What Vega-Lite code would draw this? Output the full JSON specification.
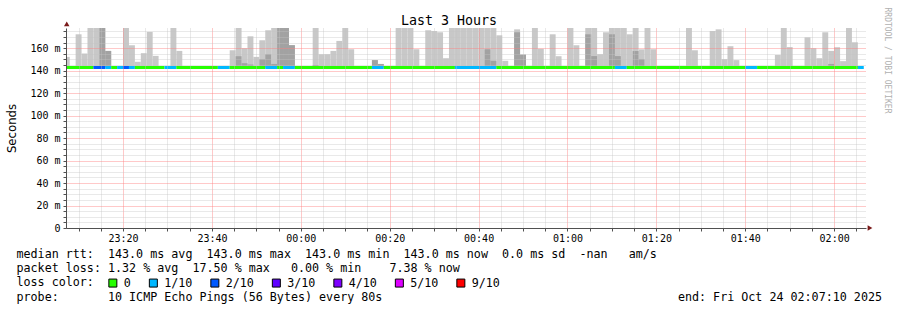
{
"$schema":"https://vega.github.io/schema/vega-lite/v6.json",
"width":800,"height":200,
"autosize":{"type":"none"},
"padding":{"left":66,"top":28,"right":31,"bottom":82},
"background":"#ffffff",
"config":{"view":{"stroke":null},"font":"DejaVu Sans Mono"},
"datasets":{
"smoke":[
{"s":"2025-10-23T23:06:40Z","e":"2025-10-23T23:08:00Z","hi":152.3},
{"s":"2025-10-23T23:09:20Z","e":"2025-10-23T23:10:40Z","hi":172.4},
{"s":"2025-10-23T23:10:40Z","e":"2025-10-23T23:12:00Z","hi":155.3},
{"s":"2025-10-23T23:12:00Z","e":"2025-10-23T23:13:20Z","hi":178},
{"s":"2025-10-23T23:13:20Z","e":"2025-10-23T23:14:40Z","hi":178},
{"s":"2025-10-23T23:14:40Z","e":"2025-10-23T23:16:00Z","hi":178,"dk":178},
{"s":"2025-10-23T23:16:00Z","e":"2025-10-23T23:17:20Z","hi":157.6,"dk":157.6},
{"s":"2025-10-23T23:20:00Z","e":"2025-10-23T23:21:20Z","hi":178},
{"s":"2025-10-23T23:21:20Z","e":"2025-10-23T23:22:40Z","hi":162.7},
{"s":"2025-10-23T23:22:40Z","e":"2025-10-23T23:24:00Z","hi":147.9},
{"s":"2025-10-23T23:24:00Z","e":"2025-10-23T23:25:20Z","hi":155.6},
{"s":"2025-10-23T23:25:20Z","e":"2025-10-23T23:26:40Z","hi":174.5},
{"s":"2025-10-23T23:26:40Z","e":"2025-10-23T23:28:00Z","hi":153.2},
{"s":"2025-10-23T23:30:40Z","e":"2025-10-23T23:32:00Z","hi":178},
{"s":"2025-10-23T23:32:00Z","e":"2025-10-23T23:33:20Z","hi":157.6},
{"s":"2025-10-23T23:44:00Z","e":"2025-10-23T23:45:20Z","hi":158.2},
{"s":"2025-10-23T23:45:20Z","e":"2025-10-23T23:46:40Z","hi":178,"dk":152.9},
{"s":"2025-10-23T23:46:40Z","e":"2025-10-23T23:48:00Z","hi":160,"dk":146.7},
{"s":"2025-10-23T23:48:00Z","e":"2025-10-23T23:49:20Z","hi":170.6,"dk":145.5},
{"s":"2025-10-23T23:49:20Z","e":"2025-10-23T23:50:40Z","hi":152.3},
{"s":"2025-10-23T23:50:40Z","e":"2025-10-23T23:52:00Z","hi":167.1,"dk":150.3},
{"s":"2025-10-23T23:52:00Z","e":"2025-10-23T23:53:20Z","hi":176,"dk":154.7},
{"s":"2025-10-23T23:53:20Z","e":"2025-10-23T23:54:40Z","hi":178,"dk":146},
{"s":"2025-10-23T23:54:40Z","e":"2025-10-23T23:56:00Z","hi":178,"dk":178},
{"s":"2025-10-23T23:56:00Z","e":"2025-10-23T23:57:20Z","hi":178,"dk":178},
{"s":"2025-10-23T23:57:20Z","e":"2025-10-23T23:58:40Z","hi":162.7,"dk":162.7},
{"s":"2025-10-24T00:02:40Z","e":"2025-10-24T00:04:00Z","hi":178,"dk":145},
{"s":"2025-10-24T00:04:00Z","e":"2025-10-24T00:05:20Z","hi":154.7},
{"s":"2025-10-24T00:05:20Z","e":"2025-10-24T00:06:40Z","hi":154.7},
{"s":"2025-10-24T00:06:40Z","e":"2025-10-24T00:08:00Z","hi":157.6},
{"s":"2025-10-24T00:08:00Z","e":"2025-10-24T00:09:20Z","hi":166.5},
{"s":"2025-10-24T00:09:20Z","e":"2025-10-24T00:10:40Z","hi":178},
{"s":"2025-10-24T00:10:40Z","e":"2025-10-24T00:12:00Z","hi":159.1},
{"s":"2025-10-24T00:16:00Z","e":"2025-10-24T00:17:20Z","hi":149.4,"dk":149.4},
{"s":"2025-10-24T00:17:20Z","e":"2025-10-24T00:18:40Z","hi":146,"dk":146},
{"s":"2025-10-24T00:21:20Z","e":"2025-10-24T00:22:40Z","hi":178},
{"s":"2025-10-24T00:22:40Z","e":"2025-10-24T00:24:00Z","hi":178},
{"s":"2025-10-24T00:24:00Z","e":"2025-10-24T00:25:20Z","hi":178},
{"s":"2025-10-24T00:25:20Z","e":"2025-10-24T00:26:40Z","hi":159.1},
{"s":"2025-10-24T00:28:00Z","e":"2025-10-24T00:29:20Z","hi":176},
{"s":"2025-10-24T00:29:20Z","e":"2025-10-24T00:30:40Z","hi":175.3},
{"s":"2025-10-24T00:30:40Z","e":"2025-10-24T00:32:00Z","hi":174.2},
{"s":"2025-10-24T00:32:00Z","e":"2025-10-24T00:33:20Z","hi":151.1},
{"s":"2025-10-24T00:33:20Z","e":"2025-10-24T00:34:40Z","hi":178},
{"s":"2025-10-24T00:34:40Z","e":"2025-10-24T00:36:00Z","hi":178},
{"s":"2025-10-24T00:36:00Z","e":"2025-10-24T00:37:20Z","hi":178},
{"s":"2025-10-24T00:37:20Z","e":"2025-10-24T00:38:40Z","hi":178},
{"s":"2025-10-24T00:38:40Z","e":"2025-10-24T00:40:00Z","hi":178},
{"s":"2025-10-24T00:40:00Z","e":"2025-10-24T00:41:20Z","hi":178},
{"s":"2025-10-24T00:41:20Z","e":"2025-10-24T00:42:40Z","hi":178,"dk":159.1},
{"s":"2025-10-24T00:42:40Z","e":"2025-10-24T00:44:00Z","hi":178,"dk":148.8},
{"s":"2025-10-24T00:44:00Z","e":"2025-10-24T00:45:20Z","hi":171.5},
{"s":"2025-10-24T00:45:20Z","e":"2025-10-24T00:46:40Z","hi":148.8},
{"s":"2025-10-24T00:48:00Z","e":"2025-10-24T00:49:20Z","hi":176.8,"dk":174.2},
{"s":"2025-10-24T00:49:20Z","e":"2025-10-24T00:50:40Z","hi":154.3,"dk":154.3},
{"s":"2025-10-24T00:52:00Z","e":"2025-10-24T00:53:20Z","hi":178},
{"s":"2025-10-24T00:53:20Z","e":"2025-10-24T00:54:40Z","hi":159.5},
{"s":"2025-10-24T00:56:00Z","e":"2025-10-24T00:57:20Z","hi":172.4},
{"s":"2025-10-24T00:57:20Z","e":"2025-10-24T00:58:40Z","hi":152.9},
{"s":"2025-10-24T01:00:00Z","e":"2025-10-24T01:01:20Z","hi":178},
{"s":"2025-10-24T01:01:20Z","e":"2025-10-24T01:02:40Z","hi":162.7},
{"s":"2025-10-24T01:04:00Z","e":"2025-10-24T01:05:20Z","hi":178,"dk":172.4},
{"s":"2025-10-24T01:05:20Z","e":"2025-10-24T01:06:40Z","hi":178,"dk":153},
{"s":"2025-10-24T01:06:40Z","e":"2025-10-24T01:08:00Z","hi":154.7},
{"s":"2025-10-24T01:08:00Z","e":"2025-10-24T01:09:20Z","hi":174.2},
{"s":"2025-10-24T01:09:20Z","e":"2025-10-24T01:10:40Z","hi":178,"dk":172.4},
{"s":"2025-10-24T01:10:40Z","e":"2025-10-24T01:12:00Z","hi":178,"dk":153},
{"s":"2025-10-24T01:12:00Z","e":"2025-10-24T01:13:20Z","hi":178},
{"s":"2025-10-24T01:13:20Z","e":"2025-10-24T01:14:40Z","hi":172.4},
{"s":"2025-10-24T01:14:40Z","e":"2025-10-24T01:16:00Z","hi":178,"dk":157.5},
{"s":"2025-10-24T01:16:00Z","e":"2025-10-24T01:17:20Z","hi":159,"dk":150.3},
{"s":"2025-10-24T01:17:20Z","e":"2025-10-24T01:18:40Z","hi":178},
{"s":"2025-10-24T01:18:40Z","e":"2025-10-24T01:20:00Z","hi":159.1},
{"s":"2025-10-24T01:26:40Z","e":"2025-10-24T01:28:00Z","hi":178},
{"s":"2025-10-24T01:28:00Z","e":"2025-10-24T01:29:20Z","hi":158.2},
{"s":"2025-10-24T01:32:00Z","e":"2025-10-24T01:33:20Z","hi":175.3},
{"s":"2025-10-24T01:33:20Z","e":"2025-10-24T01:34:40Z","hi":176.8},
{"s":"2025-10-24T01:34:40Z","e":"2025-10-24T01:36:00Z","hi":150.3},
{"s":"2025-10-24T01:36:00Z","e":"2025-10-24T01:37:20Z","hi":161.8},
{"s":"2025-10-24T01:37:20Z","e":"2025-10-24T01:38:40Z","hi":149.4},
{"s":"2025-10-24T01:46:40Z","e":"2025-10-24T01:48:00Z","hi":154},
{"s":"2025-10-24T01:48:00Z","e":"2025-10-24T01:49:20Z","hi":178},
{"s":"2025-10-24T01:49:20Z","e":"2025-10-24T01:50:40Z","hi":161},
{"s":"2025-10-24T01:53:20Z","e":"2025-10-24T01:54:40Z","hi":169.7},
{"s":"2025-10-24T01:54:40Z","e":"2025-10-24T01:56:00Z","hi":160},
{"s":"2025-10-24T01:56:00Z","e":"2025-10-24T01:57:20Z","hi":151.1},
{"s":"2025-10-24T01:57:20Z","e":"2025-10-24T01:58:40Z","hi":174.2},
{"s":"2025-10-24T01:58:40Z","e":"2025-10-24T02:00:00Z","hi":157.6,"dk":146},
{"s":"2025-10-24T02:00:00Z","e":"2025-10-24T02:01:20Z","hi":160.9},
{"s":"2025-10-24T02:01:20Z","e":"2025-10-24T02:02:40Z","hi":148.5},
{"s":"2025-10-24T02:02:40Z","e":"2025-10-24T02:04:00Z","hi":178},
{"s":"2025-10-24T02:04:00Z","e":"2025-10-24T02:05:20Z","hi":165.3}
],
"loss":[
{"s":"2025-10-23T23:06:40Z","e":"2025-10-23T23:13:20Z","med":143,"loss":"0"},
{"s":"2025-10-23T23:13:20Z","e":"2025-10-23T23:16:00Z","med":143,"loss":"2/10"},
{"s":"2025-10-23T23:16:00Z","e":"2025-10-23T23:17:20Z","med":143,"loss":"1/10"},
{"s":"2025-10-23T23:17:20Z","e":"2025-10-23T23:18:40Z","med":143,"loss":"0"},
{"s":"2025-10-23T23:18:40Z","e":"2025-10-23T23:20:00Z","med":143,"loss":"1/10"},
{"s":"2025-10-23T23:20:00Z","e":"2025-10-23T23:21:20Z","med":143,"loss":"2/10"},
{"s":"2025-10-23T23:21:20Z","e":"2025-10-23T23:22:40Z","med":143,"loss":"1/10"},
{"s":"2025-10-23T23:22:40Z","e":"2025-10-23T23:29:20Z","med":143,"loss":"0"},
{"s":"2025-10-23T23:29:20Z","e":"2025-10-23T23:32:00Z","med":143,"loss":"1/10"},
{"s":"2025-10-23T23:32:00Z","e":"2025-10-23T23:41:20Z","med":143,"loss":"0"},
{"s":"2025-10-23T23:41:20Z","e":"2025-10-23T23:44:00Z","med":143,"loss":"1/10"},
{"s":"2025-10-23T23:44:00Z","e":"2025-10-23T23:52:00Z","med":143,"loss":"0"},
{"s":"2025-10-23T23:52:00Z","e":"2025-10-23T23:54:40Z","med":143,"loss":"1/10"},
{"s":"2025-10-23T23:54:40Z","e":"2025-10-23T23:56:00Z","med":143,"loss":"0"},
{"s":"2025-10-23T23:56:00Z","e":"2025-10-23T23:58:40Z","med":143,"loss":"1/10"},
{"s":"2025-10-23T23:58:40Z","e":"2025-10-24T00:16:00Z","med":143,"loss":"0"},
{"s":"2025-10-24T00:16:00Z","e":"2025-10-24T00:18:40Z","med":143,"loss":"1/10"},
{"s":"2025-10-24T00:18:40Z","e":"2025-10-24T00:34:40Z","med":143,"loss":"0"},
{"s":"2025-10-24T00:34:40Z","e":"2025-10-24T00:44:00Z","med":143,"loss":"1/10"},
{"s":"2025-10-24T00:44:00Z","e":"2025-10-24T01:10:40Z","med":143,"loss":"0"},
{"s":"2025-10-24T01:10:40Z","e":"2025-10-24T01:13:20Z","med":143,"loss":"1/10"},
{"s":"2025-10-24T01:13:20Z","e":"2025-10-24T01:40:00Z","med":143,"loss":"0"},
{"s":"2025-10-24T01:40:00Z","e":"2025-10-24T01:42:40Z","med":143,"loss":"1/10"},
{"s":"2025-10-24T01:42:40Z","e":"2025-10-24T02:05:20Z","med":143,"loss":"0"},
{"s":"2025-10-24T02:05:20Z","e":"2025-10-24T02:06:40Z","med":143,"loss":"1/10"}
],
"arrowTop":[{"t":"2025-10-23T23:07:20Z","v":181.7}],
"arrowRight":[{"t":"2025-10-24T02:08:04Z","v":0}]
},
"layer":[
{
"data":{"name":"smoke"},
"mark":{"type":"rect","color":"#c8c8c8","clip":true},
"encoding":{
"x":{"field":"s","type":"temporal",
"scale":{"type":"utc","domain":[1761260830000,1761271630000]},
"axis":{"orient":"bottom",
"values":[1761261000000,1761261300000,1761261600000,1761261900000,1761262200000,1761262500000,1761262800000,1761263100000,1761263400000,1761263700000,1761264000000,1761264300000,1761264600000,1761264900000,1761265200000,1761265500000,1761265800000,1761266100000,1761266400000,1761266700000,1761267000000,1761267300000,1761267600000,1761267900000,1761268200000,1761268500000,1761268800000,1761269100000,1761269400000,1761269700000,1761270000000,1761270300000,1761270600000,1761270900000,1761271200000,1761271500000],
"labelExpr":"utcminutes(datum.value) % 20 === 0 ? utcFormat(datum.value, '%H:%M') : ''",
"labelFont":"DejaVu Sans Mono","labelFontSize":10,"labelColor":"#000000","labelPadding":2,"labelOverlap":false,"labelFlush":false,
"grid":true,"gridColor":{"condition":{"test":"utcminutes(datum.value) % 20 === 0","value":"#ff8080"},"value":"#c4c4c4"},
"gridOpacity":{"condition":{"test":"utcminutes(datum.value) % 20 === 0","value":0.85},"value":0.75},
"gridDash":[1,1],"tickSize":3,"tickColor":"#505050","domainColor":"#505050","zindex":1,
"title":["median rtt:\u00a0\u00a0143.0 ms avg\u00a0\u00a0143.0 ms max\u00a0\u00a0143.0 ms min\u00a0\u00a0143.0 ms now\u00a0\u00a00.0 ms sd\u00a0\u00a0-nan\u00a0\u00a0\u00a0am/s",
"packet loss: 1.32 % avg\u00a0\u00a017.50 % max\u00a0\u00a0\u00a00.00 % min\u00a0\u00a0\u00a0\u00a07.38 % now",
"loss color:",
"probe:\u00a0\u00a0\u00a0\u00a0\u00a0\u00a0\u00a010 ICMP Echo Pings (56 Bytes) every 80s\u00a0\u00a0\u00a0\u00a0\u00a0\u00a0\u00a0\u00a0\u00a0\u00a0\u00a0\u00a0\u00a0\u00a0\u00a0\u00a0\u00a0\u00a0\u00a0\u00a0\u00a0\u00a0\u00a0\u00a0\u00a0\u00a0\u00a0\u00a0\u00a0\u00a0\u00a0\u00a0\u00a0\u00a0\u00a0\u00a0\u00a0\u00a0\u00a0\u00a0\u00a0\u00a0end: Fri Oct 24 02:07:10 2025"],
"titleFont":"DejaVu Sans Mono","titleFontSize":11.7,"titleFontWeight":"normal","titleColor":"#000000",
"titleAlign":"left","titleAnchor":"start","titleX":-50,"titleY":29.5,"titleBaseline":"alphabetic","titleLineHeight":14.2}},
"x2":{"field":"e"},
"y":{"field":"hi","type":"quantitative",
"scale":{"domain":[0,178],"nice":false,"zero":true},
"axis":{"orient":"left","values":[0,5,10,15,20,25,30,35,40,45,50,55,60,65,70,75,80,85,90,95,100,105,110,115,120,125,130,135,140,145,150,155,160,165,170,175],
"labelExpr":"datum.value % 20 === 0 ? (datum.value === 0 ? '0\u00a0\u00a0' : datum.value + ' m') : ''",
"labelFont":"DejaVu Sans Mono","labelFontSize":10,"labelColor":"#000000","labelPadding":3,"labelOverlap":false,"labelFlush":false,
"grid":true,"gridColor":{"condition":{"test":"datum.value % 20 === 0","value":"#ff8080"},"value":"#c4c4c4"},
"gridOpacity":{"condition":{"test":"datum.value % 20 === 0","value":0.85},"value":0.75},
"gridDash":[1,1],"tickSize":3,"tickColor":"#505050","domainColor":"#505050","zindex":1,
"title":"Seconds","titleFont":"DejaVu Sans","titleFontSize":11.7,"titleFontWeight":"normal","titleColor":"#000000",
"titleAngle":-90,"titleX":-55,"titleY":100,"titleAlign":"center","titleBaseline":"middle"}},
"y2":{"datum":143}
}
},
{
"data":{"name":"smoke"},
"transform":[{"filter":"isValid(datum.dk)"}],
"mark":{"type":"rect","color":"#a2a2a2","clip":true},
"encoding":{
"x":{"field":"s","type":"temporal",
"axis":{"orient":"top","labels":false,"ticks":false,"domain":false,"grid":false,
"title":"Last 3 Hours","titleFont":"DejaVu Sans Mono","titleFontSize":13.3,"titleFontWeight":"normal","titleColor":"#000000",
"titleX":382.5,"titleY":-4,"titleAlign":"center","titleBaseline":"alphabetic"}},
"x2":{"field":"e"},
"y":{"field":"dk","type":"quantitative",
"axis":{"orient":"right","labels":false,"ticks":false,"domain":false,"grid":false,
"title":"RRDTOOL / TOBI OETIKER","titleFont":"DejaVu Sans Mono","titleFontSize":8,"titleFontWeight":"normal","titleColor":"#b0b0b0",
"titleAngle":90,"titleX":20,"titleY":32,"titleAlign":"center","titleBaseline":"middle"}},
"y2":{"datum":143}
}
},
{
"data":{"name":"loss"},
"mark":{"type":"rect","yOffset":-1.33,"y2Offset":1.67,"clip":true},
"encoding":{
"x":{"field":"s","type":"temporal","axis":null},
"x2":{"field":"e"},
"y":{"field":"med","type":"quantitative","axis":null},
"y2":{"field":"med"},
"color":{"field":"loss","type":"nominal",
"scale":{"domain":["0","1/10","2/10","3/10","4/10","5/10","9/10"],"range":["#26ff00","#00b8ff","#0059ff","#5e00ff","#7e00ff","#dd00ff","#ff0000"]},
"legend":{"orient":"none","legendX":41,"legendY":249,"direction":"horizontal","title":null,"padding":0,
"symbolType":"square","symbolSize":64,"symbolStrokeColor":"#000000","symbolStrokeWidth":1,"symbolOpacity":1,
"labelFont":"DejaVu Sans Mono","labelFontSize":11.7,"labelColor":"#000000","labelOffset":5,"columnPadding":15.5}}
}
},
{
"data":{"name":"arrowTop"},
"mark":{"type":"point","shape":"triangle-up","size":30,"filled":true,"color":"#7a1a1a","opacity":1,"clip":false},
"encoding":{"x":{"field":"t","type":"temporal","axis":null},"y":{"field":"v","type":"quantitative","axis":null}}
},
{
"data":{"name":"arrowRight"},
"mark":{"type":"point","shape":"triangle-right","size":30,"filled":true,"color":"#7a1a1a","opacity":1,"clip":false},
"encoding":{"x":{"field":"t","type":"temporal","axis":null},"y":{"field":"v","type":"quantitative","axis":null}}
}
],
"resolve":{"axis":{"x":"independent","y":"independent"}}
}
